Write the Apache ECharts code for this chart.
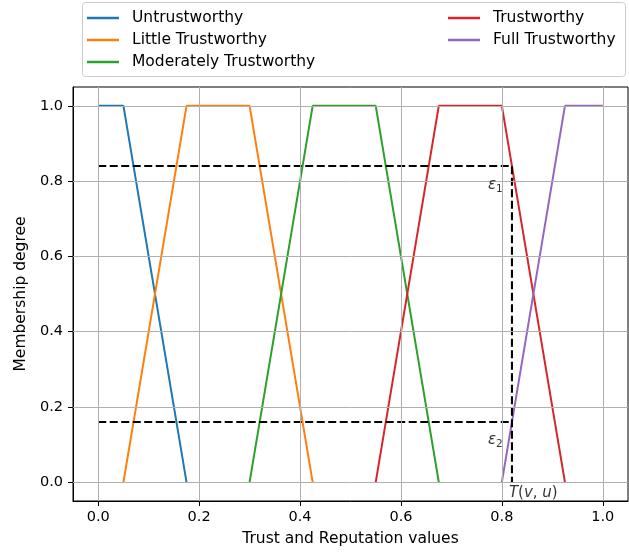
<!DOCTYPE html>
<html>
<head>
<meta charset="utf-8">
<script src="https://cdn.jsdelivr.net/npm/echarts@6/dist/echarts.min.js"></script>
<style>
  html, body { margin: 0; padding: 0; background: #fff; }
  #chart { width: 629px; height: 552px; }
</style>
</head>
<body>
<div id="chart"></div>
<script>
// Membership functions of the trust levels (trust value, membership degree)
const seriesNames = ['Untrustworthy', 'Little Trustworthy', 'Moderately Trustworthy', 'Trustworthy', 'Full Trustworthy'];
const untrustworthy = [[0, 1], [0.05, 1], [0.175, 0]];
const littleTrustworthy = [[0.05, 0], [0.175, 1], [0.3, 1], [0.425, 0]];
const moderatelyTrustworthy = [[0.3, 0], [0.425, 1], [0.55, 1], [0.675, 0]];
const trustworthy = [[0.55, 0], [0.675, 1], [0.8, 1], [0.925, 0]];
const fullTrustworthy = [[0.8, 0], [0.925, 1], [1, 1]];

// Evaluated trust value T(v,u) and its two membership degrees
const trustValue = 0.82;
const epsilon1 = 0.84;
const epsilon2 = 0.16;

const xTicks = [0, 0.2, 0.4, 0.6, 0.8, 1.0];
const yTicks = [0, 0.2, 0.4, 0.6, 0.8, 1.0];

const colors = ['#1f77b4', '#ff7f0e', '#2ca02c', '#d62728', '#9467bd'];
const font = 'DejaVu Sans';
const tickFont = 14.5;
const textFont = 15.5;

const chart = echarts.init(document.getElementById('chart'));

const curves = [untrustworthy, littleTrustworthy, moderatelyTrustworthy, trustworthy, fullTrustworthy];
const curveSeries = curves.map((d, i) => ({
  name: seriesNames[i],
  type: 'line',
  data: d,
  symbol: 'none',
  z: 3,
  lineStyle: { color: colors[i], width: 2 },
  itemStyle: { color: colors[i] },
  animation: false
}));

const dashStyle = { color: '#000', width: 2.1, type: [8, 3.5] };

const gridLineSeries = {
  type: 'line',
  data: [],
  silent: true,
  z: 1,
  markLine: {
    silent: true,
    symbol: 'none',
    animation: false,
    label: { show: false },
    lineStyle: { color: '#b0b0b0', width: 1, type: 'solid' },
    data: xTicks.map(v => ({ xAxis: v })).concat(yTicks.map(v => ({ yAxis: v })))
  }
};

const labelRich = {
  i: { fontFamily: font, fontStyle: 'italic', fontSize: 15, color: '#000' },
  n: { fontFamily: font, fontSize: 15, color: '#000' },
  s: { fontFamily: font, fontSize: 10.5, color: '#000', padding: [8, 0, 0, 0] }
};

const textSeries = {
  type: 'scatter',
  symbolSize: 0,
  silent: true,
  z: 5,
  animation: false,
  data: [
    { value: [0.787, 0.79], label: { formatter: '{i|ε}{s|1}' } },
    { value: [0.787, 0.112], label: { formatter: '{i|ε}{s|2}' } },
    { value: [0.814, -0.03], label: { formatter: '{i|T}{n|(}{i|v}{n|, }{i|u}{n|)}', align: 'left' } }
  ],
  label: { show: true, position: 'inside', rich: labelRich }
};

const legendText = { fontFamily: font, fontSize: textFont, color: '#000', padding: [0, 0, 0, 8] };

chart.setOption({
  animation: false,
  color: colors,
  textStyle: { fontFamily: font },
  grid: { left: 73, top: 87, width: 555, height: 415, show: true, borderColor: '#000', borderWidth: 1, backgroundColor: 'transparent' },
  graphic: [{
    type: 'rect',
    left: 82, top: 2,
    shape: { width: 543, height: 74, r: 3 },
    style: { fill: 'rgba(255,255,255,0.8)', stroke: '#cccccc', lineWidth: 1 },
    z: 0
  }],
  legend: [
    {
      data: seriesNames.slice(0, 3),
      orient: 'vertical',
      left: 82, top: 5,
      icon: 'rect', itemWidth: 32, itemHeight: 2.5, itemGap: 6,
      textStyle: legendText
    },
    {
      data: seriesNames.slice(3),
      orient: 'vertical',
      left: 443, top: 5,
      icon: 'rect', itemWidth: 32, itemHeight: 2.5, itemGap: 6,
      textStyle: legendText
    }
  ],
  xAxis: {
    type: 'value', min: -0.05, max: 1.05,
    name: 'Trust and Reputation values', nameLocation: 'middle', nameGap: 30,
    nameTextStyle: { fontFamily: font, fontSize: textFont, color: '#000' },
    axisLine: { show: true, onZero: false, lineStyle: { color: '#000', width: 1 } },
    axisTick: { show: true, customValues: xTicks, length: 5, lineStyle: { color: '#000' } },
    axisLabel: { customValues: xTicks, formatter: v => v.toFixed(1), margin: 9, fontFamily: font, fontSize: tickFont, color: '#000' },
    splitLine: { show: false }
  },
  yAxis: {
    type: 'value', min: -0.05, max: 1.05,
    name: 'Membership degree', nameLocation: 'middle', nameGap: 41, nameRotate: 90,
    nameTextStyle: { fontFamily: font, fontSize: textFont, color: '#000' },
    axisLine: { show: true, onZero: false, lineStyle: { color: '#000', width: 1 } },
    axisTick: { show: true, customValues: yTicks, length: 5, lineStyle: { color: '#000' } },
    axisLabel: { customValues: yTicks, formatter: v => v.toFixed(1), margin: 10, fontFamily: font, fontSize: tickFont, color: '#000' },
    splitLine: { show: false }
  },
  series: [gridLineSeries].concat(curveSeries).concat([
    {
      type: 'line', symbol: 'none', silent: true, z: 4,
      data: [[0, epsilon1], [trustValue, epsilon1], [trustValue, 0]],
      lineStyle: dashStyle
    },
    {
      type: 'line', symbol: 'none', silent: true, z: 4,
      data: [[0, epsilon2], [trustValue, epsilon2]],
      lineStyle: dashStyle
    },
    textSeries
  ])
});
</script>
</body>
</html>
